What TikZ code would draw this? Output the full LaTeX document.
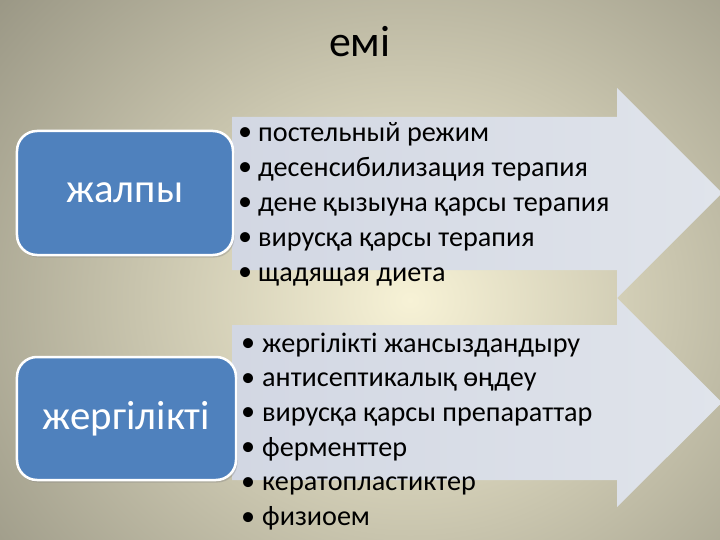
\documentclass[tikz,border=0pt]{standalone}
\usepackage{fontspec}
\setmainfont{Carlito}
\usetikzlibrary{shadows}
\definecolor{bgout}{HTML}{9A9785}
\definecolor{bgin}{HTML}{F7F2D6}
\definecolor{boxblue}{HTML}{4F81BD}
\definecolor{arrowL}{HTML}{D2D7E3}
\definecolor{arrowR}{HTML}{E0E4EB}
\newcommand\bulmarkA{\makebox[20bp][l]{\raisebox{0.5bp}{•}}}
\newcommand\bulmarkB{\makebox[21bp][l]{\raisebox{0.5bp}{•}}}
\tikzset{
  catbox/.style={rectangle, rounded corners=20bp, minimum width=218bp, minimum height=124bp,
    draw=white, line width=2.5bp, fill=boxblue, text=white, inner sep=0pt,
    font=\fontsize{41}{48}\selectfont,
    drop shadow={opacity=0.35, shadow xshift=1.5bp, shadow yshift=-2.5bp}},
  item/.style={anchor=base west, inner sep=0pt, text=black, font=\fontsize{28.3}{34}\selectfont},
  titletext/.style={anchor=base, inner sep=0pt, text=black, font=\fontsize{44}{52}\selectfont},
  arrowshape/.style={left color=arrowL, right color=arrowR}
}
\begin{document}
\begin{tikzpicture}[x=1bp,y=-1bp]
\useasboundingbox (0,0) rectangle (720,540);
\clip (0,0) rectangle (720,540);
% background
\fill[bgout] (0,0) rectangle (720,540);
\shade[inner color=bgin, outer color=bgout] (410,300) ellipse [x radius=540, y radius=470];
% title
\node[titletext] (title) at (360,57) {емі};
% arrows
\shade[arrowshape] (232,117) -- (617,117) -- (617,88) -- (722,193) -- (617,298) -- (617,270) -- (232,270) -- cycle;
\shade[arrowshape] (232,325) -- (617,325) -- (617,298) -- (722,402.5) -- (617,507) -- (617,480) -- (232,480) -- cycle;
% category boxes
\node[catbox, minimum width=216bp, minimum height=124bp] (b1) at (125,193) {жалпы};
\node[catbox, minimum width=219bp, minimum height=123bp] (b2) at (126.5,418.5) {жергілікті};
% list 1
\node[item] (a1) at (238,141.5) {\bulmarkA постельный режим};
\node[item] (a2) at (238,176.5) {\bulmarkA десенсибилизация терапия};
\node[item] (a3) at (238,211.5) {\bulmarkA дене қызыуна қарсы терапия};
\node[item] (a4) at (238,246.5) {\bulmarkA вирусқа қарсы терапия};
\node[item] (a5) at (238,281.5) {\bulmarkA щадящая диета};
% list 2
\node[item] (c1) at (241,352) {\bulmarkB жергілікті жансыздандыру};
\node[item] (c2) at (241,386.7) {\bulmarkB антисептикалық өңдеу};
\node[item] (c3) at (241,421.4) {\bulmarkB вирусқа қарсы препараттар};
\node[item] (c4) at (241,456) {\bulmarkB ферменттер};
\node[item] (c5) at (241,490.8) {\bulmarkB кератопластиктер};
\node[item] (c6) at (241,525.5) {\bulmarkB физиоем};
\end{tikzpicture}
\end{document}
